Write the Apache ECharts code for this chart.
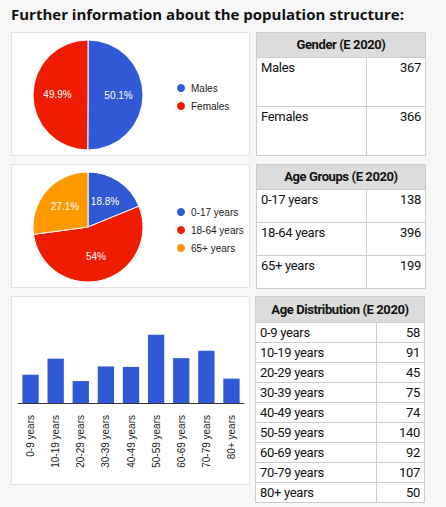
<!DOCTYPE html>
<html>
<head>
<meta charset="utf-8">
<script src="https://cdn.jsdelivr.net/npm/echarts@6/dist/echarts.min.js"></script>
<style>
  html, body { margin: 0; padding: 0; background: #f7f7f7; }
  body { width: 446px; height: 507px; position: relative; overflow: hidden; }
  h1 { position: absolute; left: 11px; top: 4px; margin: 0; font: bold 15px/20px "Open Sans", sans-serif; color: #111; white-space: nowrap; }
  .panel { position: absolute; background: #fff; border: 1px solid #e2e2e2; box-sizing: border-box; }
  .tbl { position: absolute; background: #ccc; font-family: "Roboto", sans-serif; font-size: 13px; letter-spacing: -0.3px; color: #111; }
  .tbl div { position: absolute; background: #fff; box-sizing: border-box; padding: 1px 4px 0; line-height: 17px; white-space: nowrap; }
  .tbl div.h { background: #dcdcdc; font-weight: bold; text-align: center; letter-spacing: -0.4px; padding: 0; }
  .tbl div.v { text-align: right; }
</style>
</head>
<body>
<h1>Further information about the population structure:</h1>
<div class="panel" id="p1" style="left:11px;top:32px;width:239px;height:124px"></div>
<div class="panel" id="p2" style="left:11px;top:164px;width:239px;height:124px"></div>
<div class="panel" id="p3" style="left:11px;top:296px;width:239px;height:189px"></div>
<script>
// data
var genderLabels = ["Males", "Females"];
var genderValues = [367, 366];
var groupLabels = ["0-17 years", "18-64 years", "65+ years"];
var groupValues = [138, 396, 199];
var ageLabels = ["0-9 years", "10-19 years", "20-29 years", "30-39 years", "40-49 years",
  "50-59 years", "60-69 years", "70-79 years", "80+ years"];
var ageValues = [58, 91, 45, 75, 74, 140, 92, 107, 50];

var colors = ["#3059d5", "#ee1c00", "#ff9900"];

// table drawn as a grid of cells on a grey background (grey gaps = borders)
function makeTable(title, labels, values, left, top, width, headH, rowH, colW) {
  var box = document.createElement("div");
  box.className = "tbl";
  box.style.left = left + "px";
  box.style.top = top + "px";
  box.style.width = width + "px";
  box.style.height = (headH + labels.length * rowH + 1) + "px";
  var html = '<div class="h" style="left:1px;top:1px;width:' + (width - 2) + 'px;height:' +
    (headH - 1) + 'px;line-height:' + (headH - 1) + 'px">' + title + '</div>';
  labels.forEach(function (l, i) {
    var y = headH + i * rowH + 1;
    html += '<div style="left:1px;top:' + y + 'px;width:' + (colW - 1) + 'px;height:' + (rowH - 1) + 'px">' + l + '</div>';
    html += '<div class="v" style="left:' + (colW + 1) + 'px;top:' + y + 'px;width:' + (width - colW - 2) +
      'px;height:' + (rowH - 1) + 'px">' + values[i] + '</div>';
  });
  box.innerHTML = html;
  document.body.appendChild(box);
}
makeTable("Gender (E 2020)", genderLabels, genderValues, 256, 32, 170, 25, 49, 110);
makeTable("Age Groups (E 2020)", groupLabels, groupValues, 256, 164, 170, 25, 33, 110);
makeTable("Age Distribution (E 2020)", ageLabels, ageValues, 255, 296, 170, 26, 20, 121);

function pieOption(labels, values, legendTop) {
  var sum = values.reduce(function (a, b) { return a + b; }, 0);
  return {
    animation: false,
    color: colors,
    legend: {
      orient: "vertical",
      left: 158,
      top: legendTop,
      icon: "circle",
      itemWidth: 10,
      itemHeight: 10,
      itemGap: 6,
      textStyle: { fontSize: 10, color: "#222", fontFamily: "Liberation Sans" }
    },
    series: [{
      type: "pie",
      center: [76, 62],
      radius: [0, 55],
      startAngle: 90,
      clockwise: true,
      itemStyle: { borderColor: "#fff", borderWidth: 1 },
      label: {
        position: "inside",
        color: "#fff",
        fontSize: 10,
        fontFamily: "Liberation Sans",
        formatter: function (p) {
          return parseFloat((p.value / sum * 100).toFixed(1)) + "%";
        }
      },
      labelLine: { show: false },
      data: labels.map(function (l, i) { return { name: l, value: values[i] }; })
    }]
  };
}

var c1 = echarts.init(document.getElementById("p1"), null, { renderer: "svg" });
c1.setOption(pieOption(genderLabels, genderValues, 44));
var c2 = echarts.init(document.getElementById("p2"), null, { renderer: "svg" });
c2.setOption(pieOption(groupLabels, groupValues, 36));

var c3 = echarts.init(document.getElementById("p3"), null, { renderer: "svg" });
c3.setOption({
  animation: false,
  grid: { left: 6, right: 5, top: 28, bottom: 81 },
  xAxis: {
    type: "category",
    data: ageLabels,
    axisLine: { lineStyle: { color: "#333", width: 1 } },
    axisTick: { show: false },
    axisLabel: { rotate: 90, margin: 12, fontSize: 10, color: "#222", fontFamily: "Liberation Sans", interval: 0 }
  },
  yAxis: { type: "value", min: 0, max: 160, show: false },
  series: [{
    type: "bar",
    data: ageValues,
    barCategoryGap: "35%",
    itemStyle: { color: colors[0] }
  }]
});
</script>
</body>
</html>
